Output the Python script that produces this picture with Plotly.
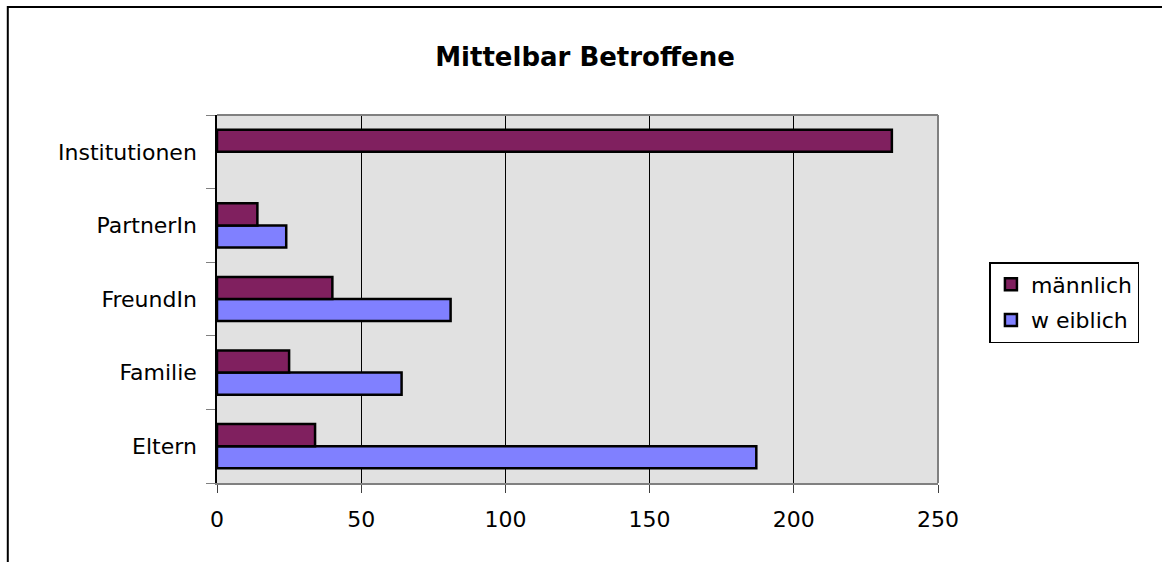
import plotly.graph_objects as go

categories = ["Eltern", "Familie", "FreundIn", "PartnerIn", "Institutionen"]
maennlich = [34, 25, 40, 14, 234]
weiblich = [187, 64, 81, 24, None]
x_ticks = [0, 50, 100, 150, 200, 250]

W, H = 1162, 562
L, R, T, B = 216.5, 223.5, 115, 79
pw, ph = W - L - R, H - T - B

def px_x(p):
    return (p - L) / pw

def px_y(p):
    return (H - B - p) / ph

fig = go.Figure()
fig.add_trace(go.Bar(
    y=categories, x=weiblich, orientation="h", name="w eiblich",
    marker=dict(color="#8080FF", line=dict(color="black", width=2.5)),
    legendrank=2, legendgroup="w",
))
fig.add_trace(go.Bar(
    y=categories, x=maennlich, orientation="h", name="männlich",
    marker=dict(color="#80205F", line=dict(color="black", width=2.5)),
    legendrank=1, legendgroup="m",
))

font = "DejaVu Sans, Arial, sans-serif"
fig.update_layout(
    width=W, height=H,
    margin=dict(l=L, r=R, t=T, b=B, autoexpand=False),
    paper_bgcolor="white",
    plot_bgcolor="#E1E1E1",
    barmode="group", bargap=0.4, bargroupgap=0,
    font=dict(family=font, size=22, color="black"),
    title=dict(text="<b>Mittelbar Betroffene</b>", x=585 / W, xanchor="center",
               y=1 - 57 / H, yanchor="middle", yref="container",
               font=dict(size=26, family=font)),
    legend=dict(x=px_x(990), y=px_y(262), xanchor="left", yanchor="top",
                bordercolor="black", borderwidth=1.5, bgcolor="white",
                font=dict(size=22), tracegroupgap=4, itemwidth=30,
                traceorder="grouped"),
    xaxis=dict(range=[0, 250], tickvals=x_ticks, showgrid=True, gridcolor="black",
               gridwidth=1, zeroline=False, ticks="outside", ticklen=8,
               tickcolor="#404040", showline=True, linecolor="#808080", linewidth=2,
               ticklabelstandoff=8, tickfont=dict(size=22)),
    yaxis=dict(showgrid=False, ticks="outside", tickson="boundaries", ticklen=9,
               tickcolor="#808080", showline=True, linecolor="black", linewidth=1.5,
               ticklabelstandoff=14, tickfont=dict(size=22)),
    shapes=[
        dict(type="line", xref="paper", yref="paper", x0=0, x1=1, y0=1, y1=1,
             line=dict(color="#808080", width=2)),
        dict(type="line", xref="paper", yref="paper", x0=1, x1=1, y0=0, y1=1,
             line=dict(color="#808080", width=2)),
        dict(type="rect", xref="paper", yref="paper", x0=px_x(7), x1=px_x(1175),
             y0=px_y(575), y1=px_y(7), line=dict(color="black", width=2),
             layer="below"),
    ],
)

fig.write_html("out.html", config={"displayModeBar": False},
               post_script="document.body.style.margin='0';")
